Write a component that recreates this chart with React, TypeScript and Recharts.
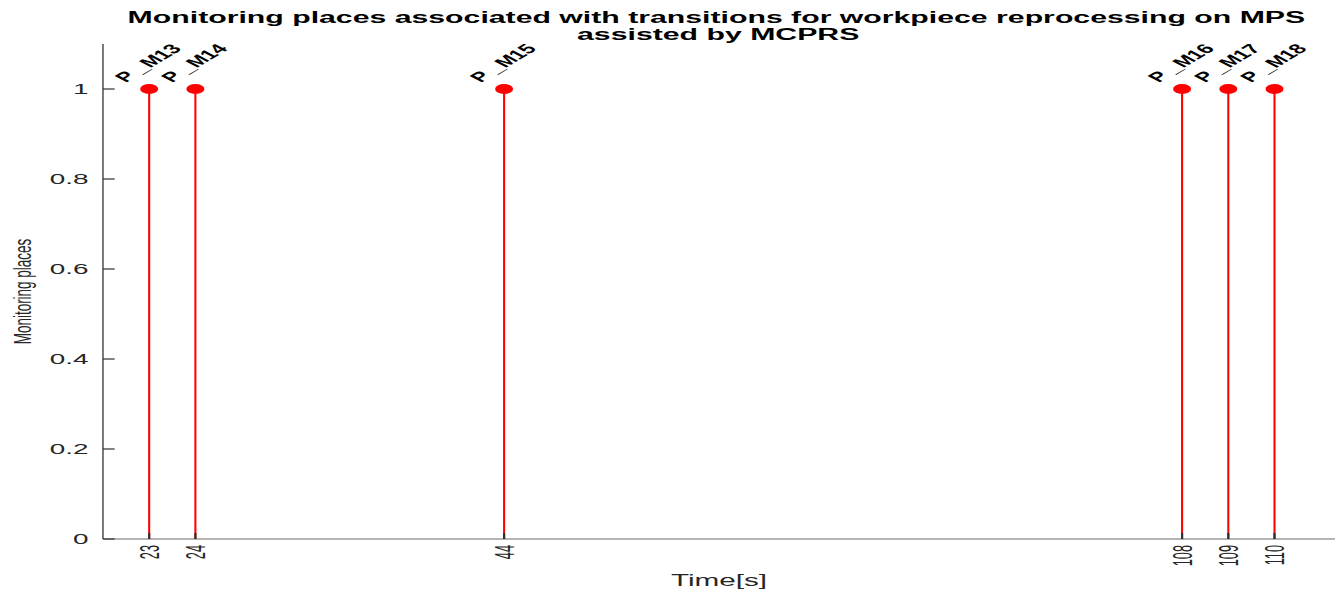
import React from 'react';
import { ComposedChart, Scatter, XAxis, YAxis, ReferenceLine } from 'recharts';

// Data
const timeLabels = ['23', '24', '44', '108', '109', '110'];
// plotted stem positions along the (non-uniform) time axis
const stemPositions = [23, 24, 30.68, 45.35, 46.35, 47.35];
const placeValues = [1, 1, 1, 1, 1, 1];
const placeNames = ['P _M13', 'P _M14', 'P _M15', 'P _M16', 'P _M17', 'P _M18'];
const yTicks = [0, 0.2, 0.4, 0.6, 0.8, 1];
const xDomain: [number, number] = [22, 48.66];
const yDomain: [number, number] = [0, 1.1];

const titleLines = [
  'Monitoring places associated with transitions for workpiece reprocessing on MPS',
  'assisted by MCPRS',
];
const xTitle = 'Time[s]';
const yTitle = 'Monitoring places';

const data = stemPositions.map((x, i) => ({
  x,
  y: placeValues[i],
  name: placeNames[i],
  time: timeLabels[i],
}));

const FONT = "'Liberation Sans', Arial, Helvetica, sans-serif";
const STRETCH = 1.8;
const W = 745;
const H = 592;
const AXIS = '#6a6a6a';
const TICK = '#303030';
const TEXT = '#262626';

const nearestIndex = (v: number) => {
  let idx = 0;
  let best = Infinity;
  stemPositions.forEach((p, i) => {
    const d = Math.abs(p - v);
    if (d < best) {
      best = d;
      idx = i;
    }
  });
  return idx;
};

const BottomTick = (props: any) => {
  const { x, y, payload } = props;
  const idx = nearestIndex(payload.value);
  const axisY = y - 6;
  return (
    <g>
      <line x1={x} x2={x} y1={axisY} y2={axisY - 6} stroke={TICK} strokeWidth={1.2} />
      <text
        transform={`translate(${x},${y}) rotate(-90) scale(0.85,1)`}
        textAnchor="end"
        dy="0.35em"
        fontSize={15}
        fill={TEXT}
        fontFamily={FONT}
      >
        {timeLabels[idx]}
      </text>
    </g>
  );
};

const TopTick = (props: any) => {
  const { x, y } = props;
  return <line x1={x} x2={x} y1={y} y2={y + 6} stroke={TICK} strokeWidth={1.2} />;
};

const LeftTick = (props: any) => {
  const { x, y, payload } = props;
  const axisX = x + 8;
  return (
    <g>
      <line x1={axisX} x2={axisX + 6.5} y1={y} y2={y} stroke={TICK} strokeWidth={1.2} />
      <text
        x={x}
        y={y}
        textAnchor="end"
        dominantBaseline="central"
        fontSize={15.5}
        fill={TEXT}
        fontFamily={FONT}
      >
        {String(payload.value)}
      </text>
    </g>
  );
};

const RightTick = (props: any) => {
  const { x, y } = props;
  return <line x1={x} x2={x - 5.5} y1={y} y2={y} stroke={TICK} strokeWidth={1.2} />;
};

const StemHead = (props: any) => {
  const { cx, cy, payload } = props;
  if (cx == null || cy == null) return null;
  const tx = cx - 13;
  const ty = cy - 6;
  return (
    <g>
      <circle cx={cx} cy={cy} r={5} fill="#ff0000" />
      <text
        x={tx}
        y={ty}
        transform={`rotate(-47, ${tx}, ${ty})`}
        fontSize={13.5}
        fontWeight="bold"
        fill="#000"
        fontFamily={FONT}
      >
        {payload.name}
      </text>
    </g>
  );
};

const XLabel = (props: any) => {
  const vb = props.viewBox || {};
  return (
    <text
      x={vb.x + vb.width / 2}
      y={vb.y + 47}
      textAnchor="middle"
      fontSize={16.5}
      fill={TEXT}
      fontFamily={FONT}
    >
      {xTitle}
    </text>
  );
};

const YLabel = (props: any) => {
  const vb = props.viewBox || {};
  const cx = vb.x + 12.5;
  const cy = vb.y + vb.height / 2;
  return (
    <text
      x={cx}
      y={cy}
      transform={`rotate(-90, ${cx}, ${cy})`}
      textAnchor="middle"
      dominantBaseline="central"
      fontSize={13.5}
      fill={TEXT}
      fontFamily={FONT}
    >
      {yTitle}
    </text>
  );
};

export default function App() {
  return (
    <div
      style={{
        position: 'absolute',
        left: 0,
        top: 0,
        width: W,
        height: H,
        transform: `scaleX(${STRETCH})`,
        transformOrigin: '0 0',
        background: '#fff',
      }}
    >
      <svg
        width={W}
        height={50}
        style={{ position: 'absolute', left: 0, top: 0, pointerEvents: 'none' }}
      >
        <text x={398} y={23} textAnchor="middle" fontSize={16.8} fontWeight="bold" fill="#000" fontFamily={FONT}>
          {titleLines[0]}
        </text>
        <text x={399} y={40} textAnchor="middle" fontSize={16.8} fontWeight="bold" fill="#000" fontFamily={FONT}>
          {titleLines[1]}
        </text>
      </svg>
      <ComposedChart
        width={W}
        height={H}
        data={data}
        margin={{ top: 44, right: 3.3, bottom: 0, left: 0 }}
      >
        <XAxis
          xAxisId="b"
          type="number"
          dataKey="x"
          domain={xDomain}
          ticks={stemPositions}
          interval={0}
          tick={<BottomTick />}
          tickLine={false}
          tickSize={0}
          tickMargin={6}
          height={53}
          stroke={AXIS}
          allowDataOverflow
          label={{ content: XLabel } as any}
        />
        <XAxis
          xAxisId="t"
          orientation="top"
          type="number"
          domain={xDomain}
          ticks={stemPositions}
          interval={0}
          tick={<TopTick />}
          tickLine={false}
          tickSize={0}
          tickMargin={0}
          height={0}
          stroke={AXIS}
          allowDataOverflow
        />
        <YAxis
          yAxisId="l"
          type="number"
          domain={yDomain}
          ticks={yTicks}
          interval={0}
          tick={<LeftTick />}
          tickLine={false}
          tickSize={0}
          tickMargin={8}
          width={57.2}
          stroke={AXIS}
          allowDataOverflow
          label={{ content: YLabel } as any}
        />
        <YAxis
          yAxisId="r"
          orientation="right"
          type="number"
          domain={yDomain}
          ticks={yTicks}
          interval={0}
          tick={<RightTick />}
          tickLine={false}
          tickSize={0}
          tickMargin={0}
          width={0}
          stroke={AXIS}
          allowDataOverflow
        />
        {data.map((d) => (
          <ReferenceLine
            key={d.name}
            xAxisId="b"
            yAxisId="l"
            segment={[
              { x: d.x, y: 0 },
              { x: d.x, y: d.y },
            ]}
            stroke="#ff0000"
            strokeWidth={1.15}
            ifOverflow="visible"
          />
        ))}
        <Scatter
          xAxisId="b"
          yAxisId="l"
          data={data}
          dataKey="y"
          shape={<StemHead />}
          isAnimationActive={false}
        />
      </ComposedChart>
    </div>
  );
}
